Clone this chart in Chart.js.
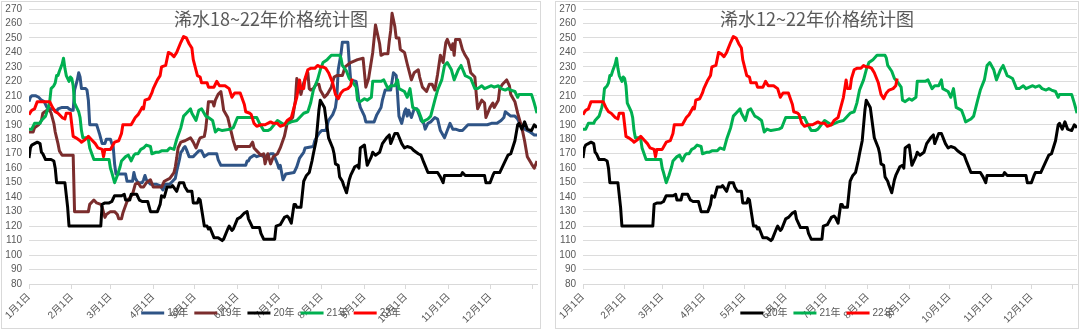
<!DOCTYPE html>
<html>
<head>
<meta charset="utf-8">
<script src="https://cdn.jsdelivr.net/npm/chart.js@4"></script>
<style>
  body { margin: 0; background: #fff; }
  .panel { position: absolute; top: 1px; height: 326px; border: 1px solid #d9d9d9; background: #fff; }
  #leftPanel { left: 1px; width: 538px; }
  #rightPanel { left: 555px; width: 522px; }
  canvas { display: block; }
</style>
</head>
<body>
<div class="panel" id="leftPanel"><canvas id="leftChart" width="538" height="326"></canvas></div>
<div class="panel" id="rightPanel"><canvas id="rightChart" width="522" height="326"></canvas></div>
<script>
// x = day of year, y = price
var monthDays = [0, 31, 59, 90, 120, 151, 181, 212, 243, 273, 304, 334, 365];
var monthLabels = ['1月1日', '2月1日', '3月1日', '4月1日', '5月1日', '6月1日', '7月1日',
  '8月1日', '9月1日', '10月1日', '11月1日', '12月1日', ''];

var s18 = [[0,206],[1,209],[2,210],[5,210],[7,209],[9,207],[11,206],[13,202],[16,201],[19,200],[20,199],[21,201],[24,202],[28,202],[29,201],[31,200],[32,200],[33,214],[35,221],[36,226],[37,223],[38,215],[41,215],[42,214],[43,207],[44,190],[49,190],[50,187],[51,184],[53,177],[55,177],[56,180],[59,180],[60,177],[61,175],[62,163],[63,156],[70,156],[71,151],[75,151],[76,157],[77,153],[79,150],[82,150],[83,152],[84,155],[85,152],[88,149],[92,149],[95,148],[97,145],[99,149],[102,149],[104,151],[106,153],[107,158],[108,162],[109,166],[110,171],[111,172],[112,174],[113,175],[114,173],[116,168],[119,168],[121,170],[123,172],[125,172],[127,168],[130,170],[136,170],[137,166],[139,162],[157,162],[158,165],[159,165],[160,167],[163,169],[165,168],[168,169],[170,168],[173,169],[175,170],[177,170],[180,163],[181,160],[182,162],[184,152],[186,156],[192,157],[194,161],[196,167],[199,171],[200,174],[206,175],[207,179],[210,184],[212,186],[215,186],[217,193],[220,197],[222,202],[223,209],[224,228],[226,239],[227,247],[231,247],[232,233],[233,221],[237,220],[238,214],[239,206],[240,202],[243,196],[244,192],[250,192],[252,197],[255,202],[256,207],[258,214],[262,214],[263,220],[264,226],[266,224],[267,211],[268,196],[270,191],[272,199],[273,201],[274,196],[275,200],[277,195],[279,201],[281,201],[283,196],[284,193],[286,191],[287,187],[289,191],[291,192],[294,195],[296,194],[297,190],[298,186],[301,181],[303,186],[305,191],[307,187],[309,187],[312,186],[314,186],[318,190],[332,190],[335,191],[339,191],[342,193],[344,195],[345,199],[349,196],[352,196],[354,194],[356,190],[359,187],[363,185],[366,183],[368,183]];

var s19 = [[0,185],[3,185],[4,188],[7,190],[9,193],[10,198],[13,200],[15,200],[16,198],[18,191],[19,185],[20,181],[21,177],[22,172],[24,169],[32,169],[33,130],[43,130],[44,135],[47,138],[49,136],[52,135],[53,133],[55,126],[56,128],[59,130],[62,130],[64,128],[65,125],[67,125],[68,129],[71,137],[75,142],[77,149],[79,150],[81,147],[83,147],[85,150],[88,152],[90,147],[96,147],[98,151],[102,153],[105,157],[106,161],[107,167],[108,174],[110,178],[113,179],[117,181],[119,178],[121,174],[123,179],[124,181],[127,182],[128,187],[129,196],[130,206],[133,206],[134,203],[135,207],[137,211],[139,213],[140,207],[141,200],[144,195],[146,187],[148,179],[150,173],[151,175],[160,175],[162,178],[163,174],[165,172],[168,169],[170,170],[171,163],[173,170],[175,163],[177,168],[180,170],[182,174],[185,182],[187,191],[191,195],[193,207],[194,222],[196,215],[197,211],[199,219],[202,226],[203,215],[204,214],[206,215],[208,218],[210,218],[211,214],[214,209],[216,211],[219,216],[221,223],[223,224],[227,224],[229,230],[233,233],[238,235],[242,236],[244,216],[246,222],[249,240],[251,259],[254,246],[255,238],[257,239],[260,239],[261,248],[262,255],[263,267],[265,258],[266,250],[268,250],[269,242],[272,240],[274,232],[277,221],[279,226],[282,228],[283,223],[285,216],[288,213],[290,218],[292,218],[294,214],[296,225],[298,238],[300,233],[302,247],[303,249],[306,242],[307,246],[308,238],[309,249],[312,249],[314,242],[316,238],[318,235],[320,226],[323,223],[324,211],[325,201],[328,207],[330,205],[331,195],[334,202],[336,205],[337,202],[340,207],[341,215],[343,218],[346,221],[348,217],[349,211],[352,206],[354,198],[357,188],[359,179],[361,168],[364,163],[366,160],[368,165]];

var s20 = [[0,167],[1,174],[2,176],[4,177],[6,178],[8,177],[9,171],[10,170],[12,166],[16,166],[18,165],[19,160],[20,150],[26,150],[28,133],[29,120],[52,120],[53,135],[55,136],[58,136],[60,137],[62,141],[67,141],[69,142],[70,138],[73,138],[74,142],[78,142],[80,138],[82,137],[86,137],[88,130],[93,130],[95,135],[96,141],[98,140],[100,147],[103,147],[104,148],[107,144],[109,150],[112,150],[113,147],[115,144],[118,144],[119,136],[122,136],[123,139],[124,138],[127,120],[129,120],[130,118],[131,119],[134,112],[137,112],[140,110],[141,111],[144,118],[145,120],[147,117],[148,118],[151,125],[153,126],[156,129],[158,130],[159,125],[162,119],[167,119],[168,115],[170,111],[178,111],[179,120],[182,121],[185,126],[187,127],[188,126],[190,122],[192,135],[193,135],[194,133],[197,133],[199,151],[201,155],[203,157],[205,165],[206,170],[208,179],[210,200],[211,207],[214,202],[216,188],[217,181],[220,174],[221,170],[222,163],[224,162],[225,154],[227,151],[228,148],[230,143],[232,152],[233,155],[236,161],[238,162],[239,160],[240,174],[243,176],[244,169],[245,162],[248,168],[249,171],[251,169],[254,171],[256,177],[259,181],[261,183],[262,177],[265,184],[267,184],[270,177],[272,174],[274,175],[277,174],[279,172],[282,170],[284,169],[286,164],[289,157],[296,157],[298,154],[300,150],[301,155],[313,155],[314,157],[316,155],[330,155],[331,150],[334,150],[336,155],[337,157],[341,157],[345,165],[347,169],[349,170],[352,179],[354,190],[355,191],[357,187],[359,192],[361,187],[364,186],[366,190],[368,188]];

var s21 = [[0,187],[2,187],[4,191],[8,191],[9,193],[12,196],[13,199],[14,202],[15,206],[16,215],[18,217],[19,219],[20,224],[21,224],[22,227],[24,232],[25,236],[26,229],[27,224],[29,220],[30,223],[31,222],[32,217],[33,205],[35,201],[36,199],[37,195],[38,186],[39,181],[42,181],[43,180],[44,174],[47,166],[58,166],[59,160],[60,157],[62,150],[64,155],[65,158],[66,161],[67,165],[70,168],[72,169],[74,165],[76,169],[77,170],[79,170],[81,173],[83,174],[85,176],[88,175],[89,170],[92,171],[94,171],[96,172],[100,172],[102,174],[105,173],[107,180],[110,188],[112,196],[114,198],[117,201],[118,198],[121,193],[123,200],[125,201],[128,196],[130,195],[133,193],[135,185],[137,187],[140,186],[146,187],[148,188],[151,195],[165,195],[167,191],[170,186],[173,186],[175,187],[180,193],[185,190],[190,192],[194,193],[199,198],[202,199],[204,205],[206,214],[209,221],[211,228],[213,233],[216,235],[219,238],[225,238],[226,236],[227,231],[230,227],[232,222],[234,220],[237,216],[238,207],[240,206],[243,208],[245,207],[248,209],[249,220],[255,220],[257,221],[260,215],[262,217],[265,217],[267,221],[268,215],[272,213],[274,209],[276,215],[278,202],[282,200],[284,195],[285,192],[289,194],[291,196],[294,207],[296,214],[299,221],[301,231],[303,233],[306,228],[308,221],[311,228],[313,231],[316,224],[318,223],[320,222],[323,215],[325,215],[328,217],[330,215],[335,217],[337,216],[340,217],[342,215],[345,214],[347,215],[349,214],[352,213],[354,209],[355,211],[364,211],[366,205],[368,198]];

var s22 = [[0,197],[2,200],[4,201],[6,206],[15,206],[17,202],[19,199],[21,198],[24,195],[26,194],[27,198],[30,198],[31,190],[32,182],[34,181],[37,179],[38,178],[41,180],[43,182],[45,180],[48,177],[50,174],[53,173],[54,168],[55,173],[59,173],[62,178],[65,179],[67,184],[68,190],[74,190],[77,195],[79,197],[82,202],[83,201],[84,207],[87,208],[89,212],[90,215],[93,221],[95,224],[96,230],[99,231],[101,240],[103,239],[105,237],[107,240],[110,247],[112,251],[114,250],[116,246],[118,243],[119,235],[122,224],[124,223],[125,219],[129,219],[130,216],[134,216],[135,218],[136,220],[138,217],[142,217],[145,215],[147,209],[149,212],[153,212],[156,204],[157,199],[160,198],[161,197],[163,191],[165,189],[168,190],[171,190],[173,191],[175,192],[177,191],[180,191],[182,189],[185,190],[187,193],[190,195],[192,202],[194,209],[196,221],[197,215],[199,215],[200,222],[202,228],[204,229],[207,229],[209,231],[211,230],[213,230],[215,229],[217,226],[220,219],[222,211],[224,208],[226,212],[228,214],[231,215],[233,217],[234,222]];

var seriesNames = ['18年', '19年', '20年', '21年', '22年'];
var seriesData = [s18, s19, s20, s21, s22];
var seriesColors = ['#2F5486', '#7B2D2D', '#000000', '#00B050', '#FF0000'];

var tickFont = { family: '"Liberation Sans", "Noto Sans CJK SC", sans-serif', size: 10 };

// title and legend are drawn over the plot, like the spreadsheet original
var panelText = {
  id: 'panelText',
  afterDraw: function (chart, args, opts) {
    var ctx = chart.ctx;
    ctx.save();
    ctx.fillStyle = '#595959';
    ctx.font = '18px "Noto Sans CJK SC", sans-serif';
    ctx.textAlign = 'center';
    ctx.textBaseline = 'middle';
    ctx.fillText(opts.title, chart.width / 2, 17);

    ctx.font = '10px "Liberation Sans", "Noto Sans CJK SC", sans-serif';
    var sets = chart.data.datasets;
    var lineLen = 23, gap = 3, space = 6, total = 0;
    sets.forEach(function (d) { total += lineLen + gap + ctx.measureText(d.label).width; });
    total += space * (sets.length - 1);
    var x = chart.width / 2 - total / 2, y = chart.height - 15;
    ctx.textAlign = 'left';
    sets.forEach(function (d) {
      ctx.strokeStyle = d.borderColor;
      ctx.lineWidth = 3;
      ctx.beginPath();
      ctx.moveTo(x, y);
      ctx.lineTo(x + lineLen, y);
      ctx.stroke();
      x += lineLen + gap;
      ctx.fillText(d.label, x, y);
      x += ctx.measureText(d.label).width + space;
    });
    ctx.restore();
  }
};

function makeSets(idx) {
  return idx.map(function (i) {
    return {
      label: seriesNames[i],
      data: seriesData[i].map(function (p) { return { x: p[0], y: p[1] }; }),
      borderColor: seriesColors[i],
      backgroundColor: seriesColors[i],
      order: 4 - i
    };
  });
}

function makeChart(id, title, idx, padRight) {
  return new Chart(id, {
    type: 'line',
    data: { datasets: makeSets(idx) },
    plugins: [panelText],
    options: {
      responsive: false,
      animation: false,
      layout: { padding: { top: 7, right: padRight, left: 0, bottom: 0 } },
      elements: {
        point: { radius: 0 },
        line: { borderWidth: 3, tension: 0, borderJoinStyle: 'round' }
      },
      plugins: {
        legend: { display: false },
        tooltip: { enabled: false },
        panelText: { title: title }
      },
      scales: {
        x: {
          type: 'linear',
          min: 0,
          max: 368,
          afterBuildTicks: function (s) {
            s.ticks = monthDays.map(function (v) { return { value: v }; });
          },
          afterFit: function (s) {
            s.height = 44;
            s.paddingLeft = 0;
            s.paddingRight = 0;
          },
          grid: { drawOnChartArea: false, drawTicks: true, tickLength: 5, color: '#d9d9d9' },
          border: { color: '#d9d9d9' },
          ticks: {
            autoSkip: false,
            maxRotation: 45,
            minRotation: 45,
            padding: 2,
            color: '#595959',
            font: tickFont,
            callback: function (v) { return monthLabels[monthDays.indexOf(v)]; }
          }
        },
        y: {
          min: 80,
          max: 270,
          afterFit: function (s) {
            s.width = 27;
            s.paddingTop = 0;
            s.paddingBottom = 0;
          },
          grid: { color: '#dcdcdc', drawTicks: false },
          border: { display: false },
          ticks: { stepSize: 10, autoSkip: false, padding: 7, color: '#595959', font: tickFont }
        }
      }
    }
  });
}

makeChart('leftChart', '浠水18~22年价格统计图', [0, 1, 2, 3, 4], 3);
makeChart('rightChart', '浠水12~22年价格统计图', [2, 3, 4], 1);
</script>
</body>
</html>
